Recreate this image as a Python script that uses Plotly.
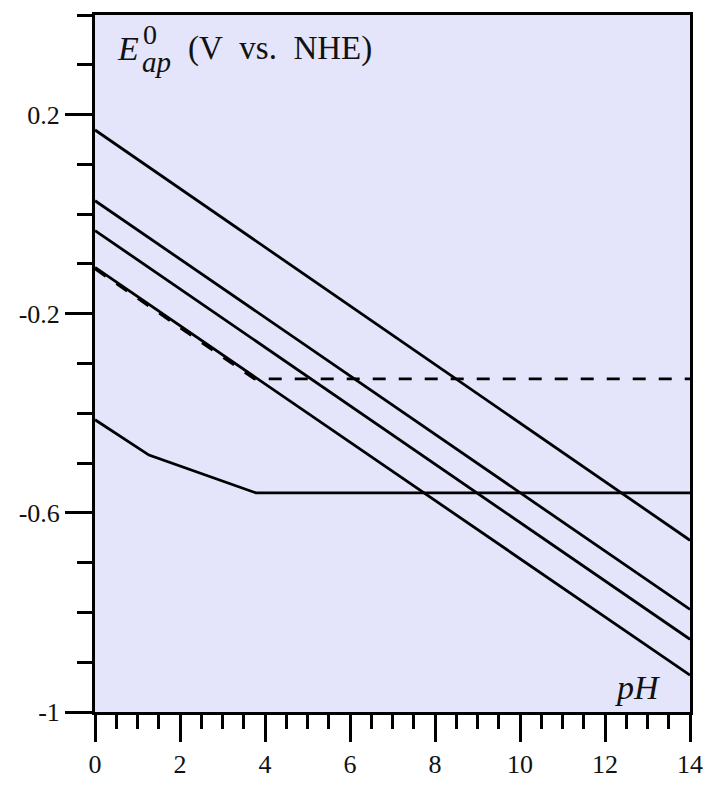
import plotly.graph_objects as go

# Data
ph_line = [0, 14]
e_line1 = [0.169, -0.655]
e_line2 = [0.027, -0.794]
e_line3 = [-0.033, -0.854]
e_line4 = [-0.107, -0.926]

ph_dashed = [0, 3.75, 14]
e_dashed = [-0.11, -0.331, -0.331]

ph_bottom = [0, 1.27, 3.79, 14]
e_bottom = [-0.413, -0.484, -0.56, -0.56]

y_tickvals = [-1, -0.6, -0.2, 0.2]
y_ticktext = ["-1", "-0.6", "-0.2", "0.2"]
x_tickvals = [0, 2, 4, 6, 8, 10, 12, 14]
x_ticktext = ["0", "2", "4", "6", "8", "10", "12", "14"]

SERIF = "Liberation Serif, Times New Roman, serif"
LW = 2.8

fig = go.Figure()
for e in (e_line1, e_line2, e_line3, e_line4):
    fig.add_trace(go.Scatter(x=ph_line, y=e, mode="lines",
                             line=dict(color="black", width=LW),
                             showlegend=False, hoverinfo="skip"))
fig.add_trace(go.Scatter(x=ph_dashed, y=e_dashed, mode="lines",
                         line=dict(color="black", width=LW, dash="13px,13px"),
                         showlegend=False, hoverinfo="skip"))
fig.add_trace(go.Scatter(x=ph_bottom, y=e_bottom, mode="lines",
                         line=dict(color="black", width=LW),
                         showlegend=False, hoverinfo="skip"))

L, R, T, B = 95, 18, 15, 65
W, H = 715, 791
PW, PH = W - L - R, H - T - B

def px(xp):
    return (xp - L) / PW

def py(yp):
    return (H - B - yp) / PH

annotations = [
    dict(text="<i>E</i>", x=px(115), y=py(49), xanchor="left", yanchor="middle",
         font=dict(size=34)),
    dict(text="0", x=px(142), y=py(35), xanchor="left", yanchor="middle",
         font=dict(size=28)),
    dict(text="<i>ap</i>", x=px(141), y=py(63), xanchor="left", yanchor="middle",
         font=dict(size=29)),
    dict(text="(V\u00a0 vs.\u00a0 NHE)", x=px(187), y=py(49), xanchor="left",
         yanchor="middle", font=dict(size=33)),
    dict(text="<i>pH</i>", x=px(670), y=py(701), xanchor="right", yanchor="middle",
         font=dict(size=34)),
]
for a in annotations:
    a.update(xref="paper", yref="paper", showarrow=False)
    a["font"].update(family=SERIF, color="#111")

fig.update_layout(
    width=W, height=H,
    margin=dict(l=L, r=R, t=T, b=B, pad=0),
    paper_bgcolor="white",
    plot_bgcolor="#E4E4FA",
    annotations=annotations,
    font=dict(family=SERIF, color="#111"),
)
fig.update_xaxes(
    range=[0, 14], showgrid=False, zeroline=False,
    showline=True, linecolor="black", linewidth=3, mirror=True,
    ticks="outside", ticklen=27, tickwidth=3, tickcolor="black",
    tickvals=x_tickvals, ticktext=x_ticktext,
    tickfont=dict(family=SERIF, size=26, color="#111"),
    minor=dict(ticks="outside", dtick=0.5, tick0=0, ticklen=14, tickwidth=3,
               tickcolor="black", showgrid=False),
)
fig.update_yaxes(
    range=[-1, 0.4], showgrid=False, zeroline=False,
    showline=True, linecolor="black", linewidth=3, mirror=True,
    ticks="outside", ticklen=27, tickwidth=3, tickcolor="black",
    tickvals=y_tickvals, ticktext=y_ticktext,
    tickfont=dict(family=SERIF, size=26, color="#111"),
    minor=dict(ticks="outside", dtick=0.1, tick0=-1, ticklen=15, tickwidth=3,
               tickcolor="black", showgrid=False),
)

fig.write_html("out.html")
